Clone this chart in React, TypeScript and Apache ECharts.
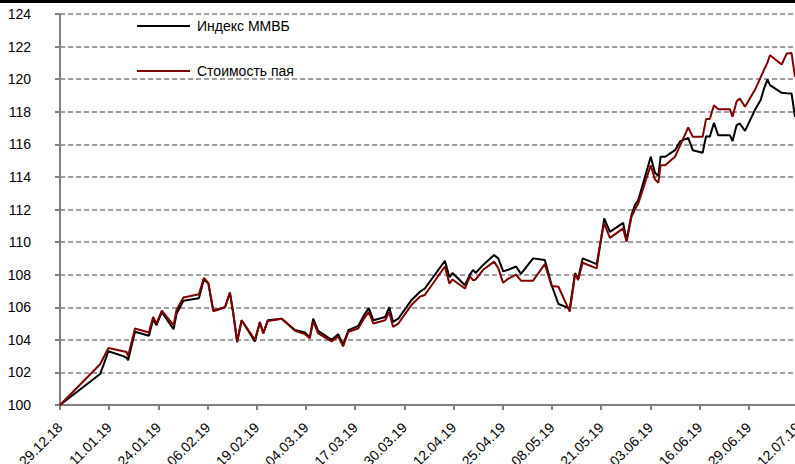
import React, { useEffect, useRef } from "react";
import * as echarts from "echarts";

// Day offsets from 29.12.18
const days = [
  0, 10.6, 12.8, 16.7, 17.6, 18.0, 19.8, 23.5, 24.6, 25.5, 26.9, 30.0, 30.8, 32.6, 36.7, 38.0, 39.2, 40.5,
  43.6, 44.9, 45.8, 46.8, 48.0, 51.5, 52.8, 53.7, 54.9, 58.6, 62.1, 64.7, 66.0, 66.9, 68.2, 71.8, 73.5, 74.8,
  76.2, 78.8, 80.3, 81.6, 82.8, 85.9, 87.0, 88.0, 89.4, 92.9, 95.1, 96.4, 101.7, 102.9, 103.7, 107.0, 108.3,
  109.2, 109.8, 111.8, 114.7, 115.8, 117.1, 118.4, 120.5, 121.8, 125.0, 128.1, 129.9, 131.7, 134.7, 136.1,
  136.9, 138.1, 141.8, 143.1, 143.8, 145.3, 148.8, 149.7, 151.0, 151.9, 152.8, 156.1, 157.2, 158.1, 158.7,
  159.9, 162.5, 163.9, 166.0, 167.2, 169.8, 170.7, 171.7, 172.8, 173.9, 177.0, 177.7, 178.8, 179.6, 181.0,
  183.6, 185.1, 186.0, 186.9, 187.6, 190.7, 192.0, 193.3, 194.2,
];

// Индекс ММВБ
const mmvb = [
  100, 101.9, 103.3, 103.0, 102.9, 102.75, 104.5, 104.25, 105.25, 104.9, 105.7, 104.65, 105.6, 106.4, 106.55, 107.7, 107.45, 105.8,
  106.0, 106.9, 105.6, 103.9, 105.2, 103.9, 105.1, 104.4, 105.2, 105.3, 104.6, 104.45, 104.15, 105.3, 104.55, 104.0, 104.35, 103.7,
  104.6, 104.85, 105.5, 105.95, 105.2, 105.4, 106.0, 105.1, 105.3, 106.45, 106.95, 107.15, 108.85, 107.85, 108.1, 107.35, 108.0,
  108.3, 108.1, 108.6, 109.2, 109.0, 108.2, 108.3, 108.5, 108.05, 109.0, 108.9, 107.36, 106.2, 105.93, 108.1,
  107.77, 109.0, 108.65, 110.33, 111.45, 110.63, 111.18, 110.12, 111.66, 112.27, 112.58, 115.24, 114.25, 114.05, 115.24,
  115.24, 115.64, 116.2, 116.4, 115.64, 115.48, 116.5, 116.46, 117.32, 116.56, 116.56, 116.2, 117.18, 117.28, 116.83,
  118.1, 118.7, 119.4, 119.98, 119.63, 119.16, 119.13, 119.12, 117.69,
];

// Стоимость пая
const pai = [
  100, 102.5, 103.5, 103.3, 103.25, 103.0, 104.7, 104.45, 105.4, 105.0, 105.8, 104.9, 105.85, 106.6, 106.8, 107.8, 107.5, 105.75,
  106.0, 106.9, 105.6, 103.85, 105.2, 104.0, 105.05, 104.4, 105.15, 105.3, 104.55, 104.35, 104.1, 105.15, 104.4, 103.9, 104.2, 103.6,
  104.5, 104.7, 105.3, 105.7, 105.0, 105.2, 105.7, 104.8, 105.0, 106.15, 106.65, 106.75, 108.5, 107.45, 107.7, 107.15, 107.9,
  107.65, 107.7, 108.3, 108.8, 108.4, 107.5, 107.75, 108.0, 107.63, 107.63, 108.65, 107.3, 107.26, 105.73, 108.04,
  107.67, 108.73, 108.39, 110.43, 111.15, 110.26, 110.84, 110.02, 111.55, 112.0, 112.37, 114.72, 113.85, 113.64, 114.72,
  114.72, 115.24, 115.95, 117.04, 116.46, 116.46, 117.55, 117.55, 118.4, 118.16, 118.16, 117.69, 118.65, 118.82, 118.31,
  119.33, 120.1, 120.56, 121.0, 121.47, 120.9, 121.57, 121.6, 120.15,
];

const xTickLabels = [
  "29.12.18", "11.01.19", "24.01.19", "06.02.19", "19.02.19", "04.03.19", "17.03.19", "30.03.19",
  "12.04.19", "25.04.19", "08.05.19", "21.05.19", "03.06.19", "16.06.19", "29.06.19", "12.07.19",
];

const seriesNames = ["Индекс ММВБ", "Стоимость пая"];

export default function App() {
  const ref = useRef<HTMLDivElement>(null);
  useEffect(() => {
    if (!ref.current) return;
    const chart = echarts.init(ref.current, null, { renderer: "svg" });
    const font = "Liberation Sans, Arial, sans-serif";
    const grey = "#808080";
    chart.setOption({
      animation: false,
      backgroundColor: "#ffffff",
      textStyle: { fontFamily: font },
      grid: { left: 60, top: 14, width: 738, height: 391, containLabel: false, outerBoundsMode: "none" },
      legend: {
        orient: "vertical",
        left: 137,
        top: 19,
        itemWidth: 53,
        itemHeight: 2,
        itemGap: 31,
        padding: 0,
        icon: "rect",
        textStyle: { fontSize: 14, color: "#000", fontFamily: font, padding: [0, 0, 0, 2] },
        data: seriesNames,
      },
      xAxis: {
        type: "value",
        min: 0,
        max: 195,
        interval: 13,
        axisLine: { show: true, lineStyle: { color: grey, width: 2 } },
        axisTick: { show: true, length: 5, lineStyle: { color: grey, width: 2 } },
        axisLabel: {
          rotate: 45,
          margin: 20,
          fontSize: 14,
          color: "#000",
          fontFamily: font,
          formatter: (v: number) => xTickLabels[Math.round(v / 13)] ?? "",
        },
        splitLine: { show: false },
      },
      yAxis: {
        type: "value",
        min: 100,
        max: 124,
        interval: 2,
        axisLine: { show: true, lineStyle: { color: grey, width: 2 } },
        axisTick: { show: true, length: 5, lineStyle: { color: grey, width: 2 } },
        axisLabel: { margin: 29, fontSize: 14, color: "#000", fontFamily: font },
        splitLine: { show: true, lineStyle: { color: grey, width: 1.5, type: [5, 3] } },
      },
      graphic: [
        { type: "rect", left: 0, top: 0, shape: { width: 795, height: 3 }, style: { fill: "#000" } },
      ],
      series: [
        {
          name: seriesNames[0],
          type: "line",
          data: days.map((d, i) => [d, mmvb[i]]),
          showSymbol: false,
          lineStyle: { color: "#000000", width: 2 },
          itemStyle: { color: "#000000" },
        },
        {
          name: seriesNames[1],
          type: "line",
          data: days.map((d, i) => [d, pai[i]]),
          showSymbol: false,
          lineStyle: { color: "#800000", width: 2 },
          itemStyle: { color: "#800000" },
        },
      ],
    });
    return () => chart.dispose();
  }, []);
  return (
    <div
      ref={ref}
      style={{ position: "absolute", left: 0, top: 0, width: 795, height: 464 }}
    />
  );
}
